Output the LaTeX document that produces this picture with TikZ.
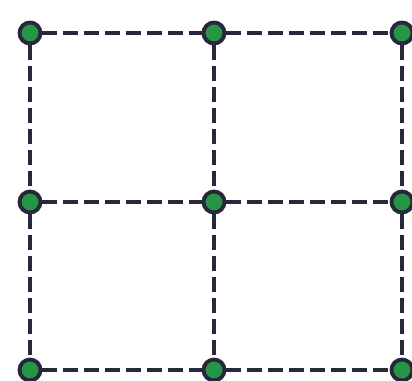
\documentclass[tikz,border=0pt]{standalone}
\usetikzlibrary{positioning}

\definecolor{dotgreen}{RGB}{38,150,70}
\definecolor{edgedark}{RGB}{40,40,60}

\begin{document}
\begin{tikzpicture}[x=0.02cm,y=-0.02cm]
  \tikzset{vert/.style={circle,draw=edgedark,line width=2.2pt,fill=dotgreen,inner sep=0pt,minimum size=0.42cm},
    edge/.style={draw=edgedark,line width=2.2pt,dash pattern=on 0.3cm off 0.12cm}}
  \useasboundingbox (0,0) rectangle (412,380);
  \node[vert] (a1) at (30,33) {};
  \node[vert] (a2) at (214,33) {};
  \node[vert] (a3) at (402,33) {};
  \node[vert] (b1) at (30,202) {};
  \node[vert] (b2) at (214,202) {};
  \node[vert] (b3) at (402,202) {};
  \node[vert] (c1) at (30,370) {};
  \node[vert] (c2) at (214,370) {};
  \node[vert] (c3) at (402,370) {};
  \path[edge] (a1) -- (a2);
  \path[edge] (a2) -- (a3);
  \path[edge] (b1) -- (b2);
  \path[edge] (b2) -- (b3);
  \path[edge] (c1) -- (c2);
  \path[edge] (c2) -- (c3);
  \path[edge] (a1) -- (b1);
  \path[edge] (b1) -- (c1);
  \path[edge] (a2) -- (b2);
  \path[edge] (b2) -- (c2);
  \path[edge] (a3) -- (b3);
  \path[edge] (b3) -- (c3);
\end{tikzpicture}
\end{document}
